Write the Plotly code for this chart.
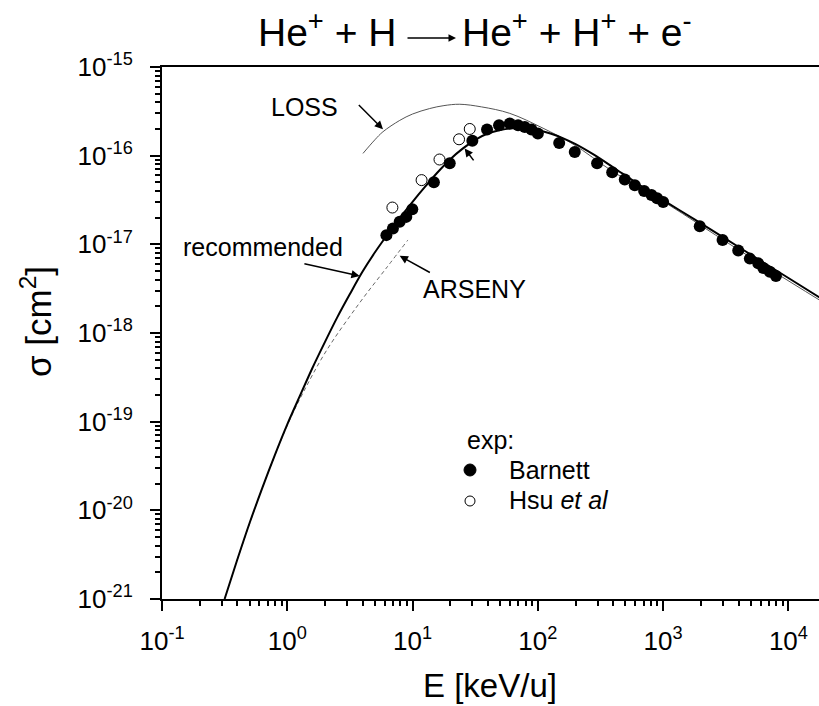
import plotly.graph_objects as go

FONT = "Liberation Sans"

# ---- experimental data: energy (keV/u) and ionisation cross section (cm^2) ----
barnett_E = [6.18, 6.97, 7.89, 8.91, 9.95, 14.8, 19.8, 30.0, 39.3, 49.0, 59.7, 69.5,
             78.6, 88.9, 100.0, 148.0, 197.0, 297.0, 392.0, 494.0, 594.0, 705.0,
             807.0, 895.0, 1000.0, 1960.0, 2980.0, 3975.0, 4920.0, 5740.0, 6300.0,
             7100.0, 7950.0]
barnett_sigma = [1.27e-17, 1.51e-17, 1.80e-17, 2.04e-17, 2.48e-17, 5.0e-17, 8.2e-17,
                 1.47e-16, 1.97e-16, 2.2e-16, 2.3e-16, 2.2e-16, 2.11e-16, 1.97e-16,
                 1.78e-16, 1.39e-16, 1.10e-16, 8.2e-17, 6.5e-17, 5.4e-17, 4.65e-17,
                 4.0e-17, 3.6e-17, 3.3e-17, 3.0e-17, 1.6e-17, 1.12e-17, 8.5e-18,
                 6.9e-18, 6.1e-18, 5.4e-18, 4.9e-18, 4.4e-18]

hsu_E = [6.9, 11.8, 16.4, 23.5, 28.6]
hsu_sigma = [2.6e-17, 5.3e-17, 9.05e-17, 1.53e-16, 2.0e-16]

# ---- recommended fit ----
rec_E = [0.316, 0.398, 0.501, 0.631, 0.794, 1.0, 1.26, 1.58, 2.0, 2.51, 3.16, 3.98,
         5.01, 6.31, 7.94, 10.0, 12.6, 15.8, 20.0, 25.1, 31.6, 39.8, 50.1, 63.1,
         79.4, 100.0, 126.0, 158.0, 200.0, 282.0, 398.0, 631.0, 1000.0, 1780.0,
         3160.0, 5620.0, 10000.0, 17800.0]
rec_sigma = [1.0e-21, 2.75e-21, 7.24e-21, 1.78e-20, 4.17e-20, 9.33e-20, 1.95e-19,
             3.98e-19, 7.94e-19, 1.51e-18, 2.75e-18, 4.90e-18, 8.13e-18, 1.29e-17,
             2.0e-17, 3.02e-17, 4.47e-17, 6.46e-17, 9.12e-17, 1.20e-16, 1.51e-16,
             1.78e-16, 1.95e-16, 2.04e-16, 2.04e-16, 1.95e-16, 1.78e-16, 1.58e-16,
             1.35e-16, 1.02e-16, 7.41e-17, 4.79e-17, 3.16e-17, 1.91e-17, 1.15e-17,
             6.92e-18, 4.17e-18, 2.51e-18]

# ---- LOSS calculation ----
loss_E = [4.02, 5.0, 5.8, 7.9, 10.0, 13.7, 17.8, 23.8, 35.5, 59.7, 110.0, 191.0,
          398.0, 1060.0, 3620.0, 17800.0]
loss_sigma = [1.06e-16, 1.51e-16, 1.86e-16, 2.5e-16, 2.95e-16, 3.4e-16, 3.67e-16,
              3.8e-16, 3.55e-16, 3.0e-16, 2.04e-16, 1.35e-16, 6.6e-17, 2.9e-17,
              9.5e-18, 2.34e-18]

# ---- ARSENY calculation ----
arseny_E = [0.398, 0.631, 1.0, 1.33, 2.05, 3.78, 6.31, 9.18]
arseny_sigma = [2.75e-21, 1.78e-20, 9.1e-20, 2.09e-19, 6.3e-19, 2.19e-18, 5.62e-18,
                1.12e-17]

# ---- axis ticks ----
x_major = [0.1, 1, 10, 100, 1000, 10000]
x_labels = ["10<sup>-1</sup>", "10<sup>0</sup>", "10<sup>1</sup>", "10<sup>2</sup>",
            "10<sup>3</sup>", "10<sup>4</sup>"]
y_major = [1e-21, 1e-20, 1e-19, 1e-18, 1e-17, 1e-16, 1e-15]
y_labels = ["10<sup>-21</sup>", "10<sup>-20</sup>", "10<sup>-19</sup>", "10<sup>-18</sup>",
            "10<sup>-17</sup>", "10<sup>-16</sup>", "10<sup>-15</sup>"]
x_minor = [m * 10.0 ** k for k in range(-1, 5) for m in range(2, 10)]
y_minor = [m * 10.0 ** k for k in range(-21, -15) for m in range(2, 10)]

W, H = 819, 706
ML, MR, MT, MB = 162, 0, 67, 107
PW, PH = W - ML - MR, H - MT - MB


def paper(px, py):
    """Convert page pixels to paper coordinates for decorations."""
    return (px - ML) / PW, (H - MB - py) / PH


fig = go.Figure()

fig.add_trace(go.Scatter(x=loss_E, y=loss_sigma, mode="lines", line_shape="spline",
                         line=dict(color="#555555", width=1), name="LOSS"))
fig.add_trace(go.Scatter(x=arseny_E, y=arseny_sigma, mode="lines", line_shape="spline",
                         line=dict(color="#666666", width=1, dash="4px,3px"),
                         name="ARSENY"))
fig.add_trace(go.Scatter(x=rec_E, y=rec_sigma, mode="lines", line_shape="spline",
                         line=dict(color="black", width=2, smoothing=0.8),
                         name="recommended"))
fig.add_trace(go.Scatter(x=hsu_E, y=hsu_sigma, mode="markers", name="Hsu et al",
                         marker=dict(symbol="circle", size=11, color="white",
                                     line=dict(color="black", width=1))))
fig.add_trace(go.Scatter(x=barnett_E, y=barnett_sigma, mode="markers", name="Barnett",
                         marker=dict(symbol="circle", size=12, color="black",
                                     line=dict(width=0))))

axis_common = dict(
    type="log", showline=True, linewidth=2, linecolor="black", ticks="outside",
    ticklen=10, tickwidth=2, tickcolor="black", showgrid=False, zeroline=False,
    tickfont=dict(family=FONT, size=26, color="black"), tickmode="array",
)

fig.update_xaxes(**axis_common, range=[-1, 4.244], mirror=True, tickvals=x_major,
                 ticktext=x_labels, ticklabelstandoff=8,
                 minor=dict(tickmode="array", tickvals=x_minor, ticks="outside",
                            ticklen=5, tickwidth=1.5, tickcolor="black", showgrid=False))
fig.update_yaxes(**axis_common, range=[-21, -15], tickvals=y_major, ticktext=y_labels,
                 ticklabelstandoff=12,
                 minor=dict(tickmode="array", tickvals=y_minor, ticks="outside",
                            ticklen=5, tickwidth=1.5, tickcolor="black", showgrid=False))

annotations = []
text_font = dict(family=FONT, size=25, color="black")

# curve labels (positions in log10 axis units)
annotations += [
    dict(x=0.138, y=-15.454, xref="x", yref="y", text="LOSS", showarrow=False, font=text_font),
    dict(x=-0.195, y=-17.025, xref="x", yref="y", text="recommended", showarrow=False,
         font=text_font),
    dict(x=1.496, y=-17.50, xref="x", yref="y", text="ARSENY", showarrow=False, font=text_font),
]

# pointer arrows (head at x,y; tail at ax,ay; log10 axis units)
arrow_style = dict(xref="x", yref="y", axref="x", ayref="y", text="", showarrow=True,
                   arrowhead=2, arrowsize=1.1, arrowwidth=1.5, arrowcolor="black")
for head, tail in [((0.764, -15.702), (0.559, -15.412)),
                   ((0.5775, -17.357), (0.1246, -17.214)),
                   ((0.897, -17.13), (1.150, -17.327)),
                   ((1.416, -15.919), (1.496, -16.07))]:
    annotations.append(dict(x=head[0], y=head[1], ax=tail[0], ay=tail[1], **arrow_style))

# axis titles
tx, ty = paper(490, 685)
annotations.append(dict(x=tx, y=ty, xref="paper", yref="paper", text="E [keV/u]",
                        xanchor="center", yanchor="middle", showarrow=False,
                        font=dict(family=FONT, size=33, color="black")))
tx, ty = paper(36, 322)
annotations.append(dict(x=tx, y=ty, xref="paper", yref="paper", text="σ [cm<sup>2</sup>]",
                        textangle=-90, xanchor="center", yanchor="middle",
                        showarrow=False, font=dict(family=FONT, size=35, color="black")))

# reaction title
title_font = dict(family=FONT, size=39, color="black")
tx, ty = paper(398, 30)
annotations.append(dict(x=tx, y=ty, xref="paper", yref="paper",
                        text="He<sup>+</sup> + H", xanchor="right", yanchor="middle",
                        showarrow=False, font=title_font))
tx, ty = paper(460, 30)
annotations.append(dict(x=tx, y=ty, xref="paper", yref="paper",
                        text="He<sup>+</sup> + H<sup>+</sup> + e<sup>-</sup>",
                        xanchor="left", yanchor="middle", showarrow=False, font=title_font))
hx, hy = paper(456, 38)
annotations.append(dict(x=hx, y=hy, ax=-50, ay=0, xref="paper", yref="paper",
                        axref="pixel", ayref="pixel", text="", showarrow=True,
                        arrowhead=2, arrowsize=1.0, arrowwidth=1.5, arrowcolor="black"))

# legend block
for label, px_, py_ in [("exp:", 465, 440), ("Barnett", 507, 469.5),
                        ("Hsu <i>et al</i>", 507, 500)]:
    tx, ty = paper(px_, py_)
    annotations.append(dict(x=tx, y=ty, xref="paper", yref="paper", text=label,
                            xanchor="left", yanchor="middle", showarrow=False,
                            font=text_font))

shapes = []
for cx, cy, d, fill in [(470, 470, 12, "black"), (470, 501, 10, "white")]:
    px0, py0 = paper(cx, cy)
    shapes.append(dict(type="circle", xref="paper", yref="paper", xsizemode="pixel",
                       ysizemode="pixel", xanchor=px0, yanchor=py0,
                       x0=-d / 2, x1=d / 2, y0=-d / 2, y1=d / 2,
                       fillcolor=fill, line=dict(color="black", width=1)))

fig.update_layout(
    width=W, height=H, margin=dict(l=ML, r=MR, t=MT, b=MB),
    plot_bgcolor="white", paper_bgcolor="white", showlegend=False,
    annotations=annotations, shapes=shapes,
)

fig.write_html("out.html")
